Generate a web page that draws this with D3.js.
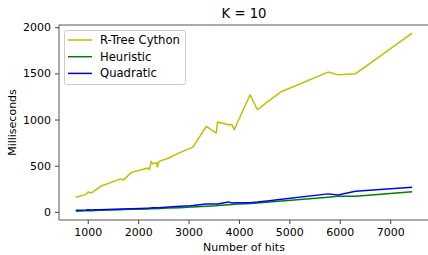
<!DOCTYPE html>
<html>
<head>
<meta charset="utf-8">
<script src="https://cdn.jsdelivr.net/npm/d3@7"></script>
<style>
  body { margin: 0; background: #fff; }
  text { font-family: "DejaVu Sans", sans-serif; fill: #000; }
</style>
</head>
<body>
<div id="chart"></div>
<script>
var hits = [763, 960, 1006, 1073, 1145, 1257, 1652, 1705, 1870, 2192, 2225, 2259, 2285, 2370, 2377, 2417, 2607, 2838, 3036, 3089, 3352, 3549, 3575, 3793, 3860, 3905, 4221, 4366, 4603, 4848, 5769, 5967, 6310, 7437];
var rtree = [158, 187, 216, 205, 234, 277, 357, 346, 428, 475, 457, 547, 522, 533, 486, 547, 584, 644, 690, 703, 925, 854, 973, 944, 947, 890, 1268, 1106, 1207, 1304, 1514, 1484, 1495, 1935];
var heuristic = [8, 12, 14, 13, 15, 17, 24, 25, 28, 32, 34, 33, 35, 36, 35, 37, 41, 46, 52, 54, 60, 66, 68, 78, 80, 82, 92, 97, 108, 118, 158, 169, 170, 219];
var quadratic = [17, 20, 22, 21, 23, 24, 30, 31, 33, 38, 42, 41, 44, 45, 43, 46, 52, 61, 66, 68, 85, 86, 86, 108, 97, 98, 100, 106, 120, 137, 195, 182, 223, 266];
var seriesNames = ["R-Tree Cython", "Heuristic", "Quadratic"];
var seriesColors = ["#bfbf00", "#008000", "#0000ff"];
var xTicks = [1000, 2000, 3000, 4000, 5000, 6000, 7000];
var yTicks = [0, 500, 1000, 1500, 2000];

var width = 428, height = 255;
var padL = 59, padR = 429, padT = 25, padB = 220;

var svg = d3.select("#chart").append("svg")
  .attr("width", width).attr("height", height);

var x = d3.scaleLinear().domain([429, 7771]).range([padL, padR]);
var y = d3.scaleLinear().domain([-88, 2024]).range([padB, padT]);

var allSeries = [rtree, heuristic, quadratic];

var line = d3.line()
  .x(function(d) { return x(d[0]); })
  .y(function(d) { return y(d[1]); });

allSeries.forEach(function(s, i) {
  svg.append("path")
    .datum(hits.map(function(h, j) { return [h, s[j]]; }))
    .attr("fill", "none")
    .attr("stroke", seriesColors[i])
    .attr("stroke-width", 1.5)
    .attr("stroke-linejoin", "round")
    .attr("d", line);
});

// spines
svg.append("line").attr("x1", padL).attr("x2", padL).attr("y1", padT).attr("y2", padB)
  .attr("stroke", "#555").attr("stroke-width", 1);
svg.append("line").attr("x1", padL).attr("x2", padR).attr("y1", padB).attr("y2", padB)
  .attr("stroke", "#555").attr("stroke-width", 1);
svg.append("line").attr("x1", padL).attr("x2", padR).attr("y1", padT).attr("y2", padT)
  .attr("stroke", "#555").attr("stroke-width", 1);

var xAxis = svg.append("g").attr("transform", "translate(0," + padB + ")")
  .call(d3.axisBottom(x).tickValues(xTicks).tickSize(4).tickPadding(4).tickFormat(d3.format("d")));
xAxis.select(".domain").remove();
xAxis.selectAll("line").attr("stroke", "#444");
xAxis.selectAll("text").style("font-size", "11px").style("font-family", "DejaVu Sans");

var yAxis = svg.append("g").attr("transform", "translate(" + padL + ",0)")
  .call(d3.axisLeft(y).tickValues(yTicks).tickSize(4).tickPadding(4).tickFormat(d3.format("d")));
yAxis.select(".domain").remove();
yAxis.selectAll("line").attr("stroke", "#444");
yAxis.selectAll("text").style("font-size", "11px").style("font-family", "DejaVu Sans");

svg.append("text").attr("x", (padL + padR) / 2).attr("y", 17.5)
  .attr("text-anchor", "middle").style("font-size", "13.2px").text("K = 10");
svg.append("text").attr("x", (padL + padR) / 2).attr("y", 251)
  .attr("text-anchor", "middle").style("font-size", "11px").text("Number of hits");
svg.append("text").attr("transform", "translate(15.5," + ((padT + padB) / 2) + ") rotate(-90)")
  .attr("text-anchor", "middle").style("font-size", "11px").text("Milliseconds");

// legend
var lg = svg.append("g");
lg.append("rect").attr("x", 64.5).attr("y", 30.5).attr("width", 121).attr("height", 54).attr("rx", 2)
  .attr("fill", "#fff").attr("fill-opacity", 0.8).attr("stroke", "#ccc");
seriesNames.forEach(function(n, i) {
  var yy = 40 + i * 16.7;
  lg.append("line").attr("x1", 68).attr("x2", 92).attr("y1", yy).attr("y2", yy)
    .attr("stroke", seriesColors[i]).attr("stroke-width", 1.5);
  lg.append("text").attr("x", 100).attr("y", yy + 4).style("font-size", "11.6px").text(n);
});
</script>
</body>
</html>
